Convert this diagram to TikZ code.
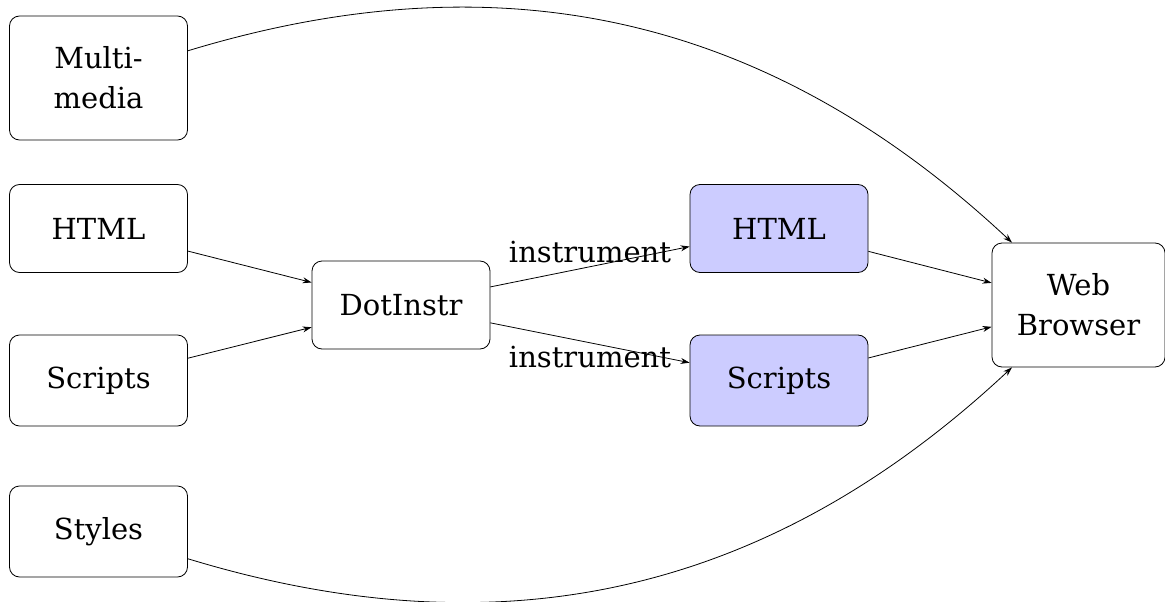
\documentclass[tikz,border=0pt]{standalone}
\usepackage{fontspec}
\setmainfont{DejaVu Serif}
\usetikzlibrary{arrows.meta}
\begin{document}
\begin{tikzpicture}[x=1pt,y=-1pt,
  txt/.style={font=\fontsize{29}{40}\selectfont},
  box/.style={txt, draw, rounded corners=10pt, minimum width=178pt,
    minimum height=88pt, align=center, line width=0.8pt},
  tallbox/.style={box, minimum height=124pt},
  instr/.style={box, fill=blue!20},
  conn/.style={-{Stealth[length=9pt,width=6pt]}, line width=0.8pt},
  lbl/.style={txt}]
\useasboundingbox (0,0) rectangle (1165,602);
\clip (0,0) rectangle (1165,602);

% sources
\node[tallbox] (mm)   at (98.5,78)  {Multi-\\media};
\node[box]     (html) at (98.5,228.5) {HTML};
\node[box, minimum height=91pt] (scr) at (98.5,380.5) {Scripts};
\node[box, minimum height=91pt] (sty) at (98.5,531.5) {Styles};

% instrumentation
\node[box] (dot) at (401,305) {DotInstr};
\node[instr] (ihtml) at (779,228.5) {HTML};
\node[instr, minimum height=91pt] (iscr) at (779,380.5) {Scripts};

% browser
\node[tallbox, minimum width=173pt] (wb) at (1078.5,305) {Web\\Browser};

% connectors
\draw[conn] (html) -- (dot);
\draw[conn] (scr) -- (dot);
\draw[conn] (dot) -- node[lbl, above] {instrument} (ihtml);
\draw[conn] (dot) -- node[lbl, below] {instrument} (iscr);
\draw[conn] (ihtml) -- (wb);
\draw[conn] (iscr) -- (wb);
\draw[conn] (mm) to[bend left=30] (wb);
\draw[conn] (sty) to[bend right=30] (wb);
\end{tikzpicture}
\end{document}
